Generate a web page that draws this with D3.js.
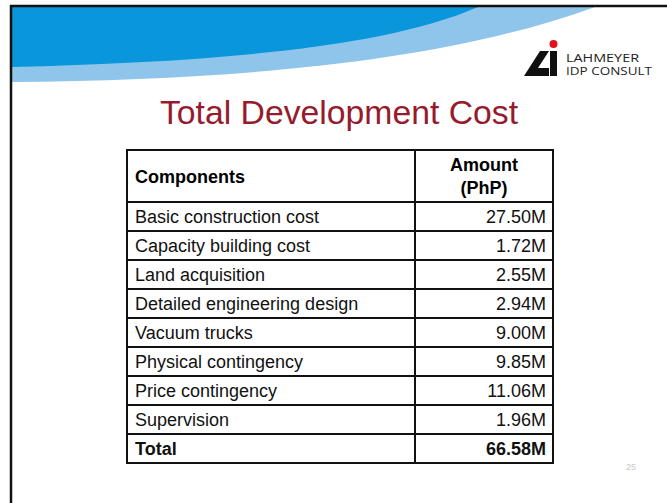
<!DOCTYPE html>
<html>
<head>
<meta charset="utf-8">
<script src="https://cdnjs.cloudflare.com/ajax/libs/d3/7.8.5/d3.min.js"></script>
<style>
  body { margin: 0; background: #fff; }
  svg { display: block; }
</style>
</head>
<body>
<div class="container"></div>
<script>
// Table data
var components = [
  'Basic construction cost',
  'Capacity building cost',
  'Land acquisition',
  'Detailed engineering design',
  'Vacuum trucks',
  'Physical contingency',
  'Price contingency',
  'Supervision',
  'Total'
];
var amounts = [27.50, 1.72, 2.55, 2.94, 9.00, 9.85, 11.06, 1.96, 66.58];
var headers = ['Components', 'Amount', '(PhP)'];

(function() {
  var opts = {
    width: 667,
    height: 503,
    tableLeft: 127,
    tableRight: 553,
    divider: 415,
    tableTop: 150,
    headerBottom: 202,
    rowHeight: 29
  };

  var svg = d3.select('div.container').append('svg')
    .attr('width', opts.width)
    .attr('height', opts.height);

  // Slide banner: two blue swooshes
  svg.append('path')
    .attr('d', 'M12,7 L595,7 C450,60 250,80 12,82 Z')
    .attr('fill', '#8fc5eb');
  svg.append('path')
    .attr('d', 'M12,7 L478,7 C380,50 200,62 12,67 Z')
    .attr('fill', '#0a96da');

  // Slide frame
  svg.append('line').attr('x1', 10).attr('x2', 667).attr('y1', 6).attr('y2', 6)
    .attr('stroke', '#111').attr('stroke-width', 2.5);
  svg.append('line').attr('x1', 11).attr('x2', 11).attr('y1', 5).attr('y2', 503)
    .attr('stroke', '#111').attr('stroke-width', 2.5);

  // Logo
  var logo = svg.append('g');
  logo.append('path')
    .attr('d', 'M524,76 L540,51 L549,51 L538,68 L549,68 L549,76 Z')
    .attr('fill', '#111');
  logo.append('rect').attr('x', 550).attr('y', 51).attr('width', 7).attr('height', 25).attr('fill', '#111');
  logo.append('circle').attr('cx', 553.5).attr('cy', 44).attr('r', 4).attr('fill', '#e3101e');
  logo.append('text').text('LAHMEYER')
    .attr('x', 566).attr('y', 61.5)
    .attr('font-family', 'Open Sans, sans-serif').attr('font-size', 10.5)
    .attr('textLength', 73).attr('lengthAdjust', 'spacingAndGlyphs')
    .attr('fill', '#222');
  logo.append('text').text('IDP CONSULT')
    .attr('x', 566).attr('y', 75)
    .attr('font-family', 'Open Sans, sans-serif').attr('font-size', 10.5)
    .attr('textLength', 86).attr('lengthAdjust', 'spacingAndGlyphs')
    .attr('fill', '#222');

  // Title
  svg.append('text').text('Total Development Cost')
    .attr('x', 160).attr('y', 124)
    .attr('font-family', 'Liberation Sans, Arial, sans-serif')
    .attr('font-size', 34)
    .attr('textLength', 358).attr('lengthAdjust', 'spacingAndGlyphs')
    .attr('fill', '#951b2d');

  // Row positions
  var y = d3.scaleBand()
    .domain(components)
    .range([opts.headerBottom, opts.headerBottom + opts.rowHeight * components.length]);

  var font = 'Liberation Sans, Arial, sans-serif';
  var table = svg.append('g');

  // Header
  table.append('text').text(headers[0])
    .attr('x', opts.tableLeft + 8).attr('y', 183)
    .attr('font-family', font).attr('font-size', 18).attr('font-weight', 'bold');
  table.append('text').text(headers[1])
    .attr('x', (opts.divider + opts.tableRight) / 2).attr('y', 171)
    .attr('text-anchor', 'middle')
    .attr('font-family', font).attr('font-size', 18).attr('font-weight', 'bold');
  table.append('text').text(headers[2])
    .attr('x', (opts.divider + opts.tableRight) / 2).attr('y', 194)
    .attr('text-anchor', 'middle')
    .attr('font-family', font).attr('font-size', 18).attr('font-weight', 'bold');

  // Body rows
  var rows = table.selectAll('g.row')
    .data(components)
    .enter().append('g')
    .attr('class', 'row')
    .attr('transform', function(d) { return 'translate(0,' + y(d) + ')'; });

  rows.append('text')
    .text(function(d) { return d; })
    .attr('x', opts.tableLeft + 8)
    .attr('y', y.bandwidth() / 2 + 6.5)
    .attr('font-family', font).attr('font-size', 18)
    .attr('font-weight', function(d) { return d === 'Total' ? 'bold' : 'normal'; })
    .attr('fill', '#111');

  rows.append('text')
    .text(function(d, i) { return amounts[i].toFixed(2) + 'M'; })
    .attr('x', opts.tableRight - 7)
    .attr('y', y.bandwidth() / 2 + 6.5)
    .attr('text-anchor', 'end')
    .attr('font-family', font).attr('font-size', 18)
    .attr('font-weight', function(d) { return d === 'Total' ? 'bold' : 'normal'; })
    .attr('fill', '#111');

  // Grid lines
  var bottom = y.range()[1];
  var hLines = [opts.tableTop, opts.headerBottom].concat(components.map(function(d) { return y(d) + y.bandwidth(); }));
  table.selectAll('line.h')
    .data(hLines)
    .enter().append('line')
    .attr('class', 'h')
    .attr('x1', opts.tableLeft).attr('x2', opts.tableRight)
    .attr('y1', function(d) { return d; }).attr('y2', function(d) { return d; })
    .attr('stroke', '#111').attr('stroke-width', 2);
  table.selectAll('line.v')
    .data([opts.tableLeft, opts.divider, opts.tableRight])
    .enter().append('line')
    .attr('class', 'v')
    .attr('x1', function(d) { return d; }).attr('x2', function(d) { return d; })
    .attr('y1', opts.tableTop - 1).attr('y2', bottom + 1)
    .attr('stroke', '#111').attr('stroke-width', 2);

  // Page number
  svg.append('text').text('25')
    .attr('x', 626).attr('y', 470)
    .attr('font-family', font).attr('font-size', 9)
    .attr('fill', '#c8c8c8');
}).call(this);
</script>
</body>
</html>
